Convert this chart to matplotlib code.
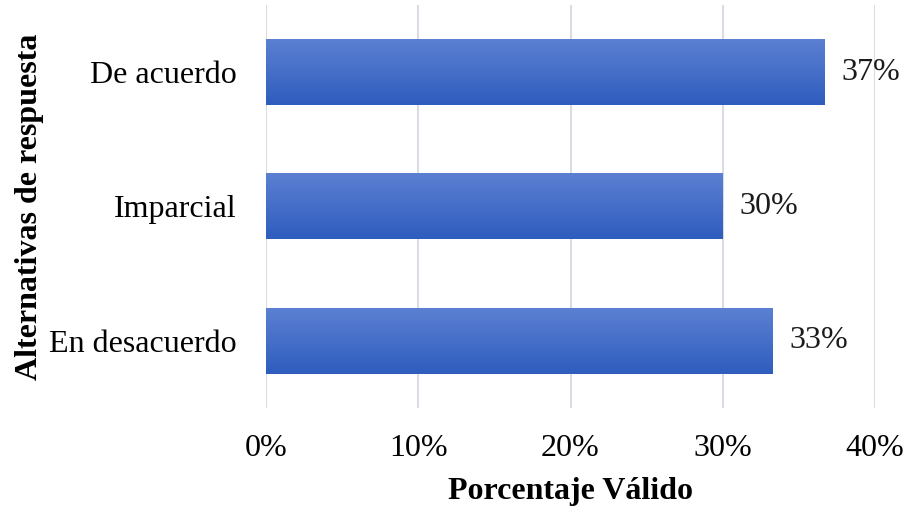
import numpy as np
import matplotlib.pyplot as plt
from matplotlib.colors import LinearSegmentedColormap

categories = ["En desacuerdo", "Imparcial", "De acuerdo"]
values = [33.3, 30.0, 36.7]
labels = ["33%", "30%", "37%"]
ticks = [0, 10, 20, 30, 40]

plt.rcParams['font.family'] = ['Liberation Serif', 'DejaVu Serif']
fs = 23

fig = plt.figure(figsize=(9.09, 5.07), dpi=100)
ax = fig.add_axes([266 / 909, 1 - 408 / 507, (875 - 266) / 909, (408 - 5) / 507])

grad = LinearSegmentedColormap.from_list("bar", ["#2F5DBE", "#5B80D2"])
bar_h = 0.49
for i, v in enumerate(values):
    img = np.linspace(0, 1, 100).reshape(-1, 1)
    ax.imshow(img, cmap=grad, aspect='auto', origin='lower',
              extent=[0, v, i - bar_h / 2, i + bar_h / 2], zorder=2)
    ax.text(v + 1.1, i, labels[i], va='center', ha='left', fontsize=fs, color='#1a1a1a')

ax.set_xlim(0, 40)
ax.set_ylim(-0.5, 2.5)
ax.set_yticks(range(len(categories)))
ax.set_yticklabels(categories, fontsize=fs)
ax.set_xticks(ticks)
ax.set_xticklabels([f"{t}%" for t in ticks], fontsize=fs)
ax.tick_params(length=0)
ax.tick_params(axis='x', pad=19)
ax.tick_params(axis='y', pad=21)
ax.grid(axis='x', color='#D9DCE3', linewidth=1.5, zorder=0)
ax.set_axisbelow(True)
for s in ax.spines.values():
    s.set_visible(False)

ax.set_xlabel("Porcentaje Válido", fontsize=fs, fontweight='bold', labelpad=10)
ax.set_ylabel("Alternativas de respuesta", fontsize=fs, fontweight='bold', labelpad=4)

fig.savefig("out.png", dpi=100)
